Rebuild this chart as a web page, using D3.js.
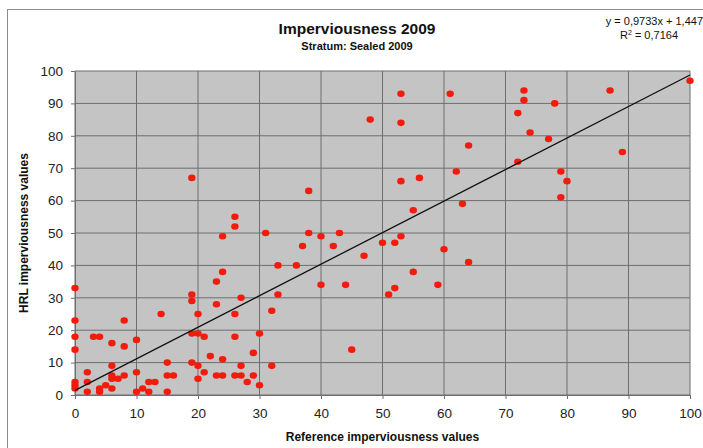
<!DOCTYPE html>
<html>
<head>
<meta charset="utf-8">
<script src="https://cdn.jsdelivr.net/npm/d3@7"></script>
<style>
  body { margin: 0; background: #fff; }
  svg { display: block; font-family: "Liberation Sans", Arial, sans-serif; }
</style>
</head>
<body>
<div class="chart"></div>
<script>
// Reference (x) and HRL (y) imperviousness values
var refValues = [
  0, 0, 0, 0, 0, 0, 0,
  2, 2, 2, 3, 4, 4, 4, 5,
  6, 6, 6, 6, 6, 7, 8, 8, 8,
  10, 10, 10, 11, 12, 12, 13, 14, 15, 15, 15, 16,
  19, 19, 19, 19, 19, 20, 20, 20, 20, 21, 21, 22,
  23, 23, 23, 24, 24, 24, 24, 26, 26, 26, 26, 26,
  27, 27, 27, 28, 29, 29, 30, 30, 31, 32, 32, 33, 33,
  36, 37, 38, 38, 40, 40, 42, 43, 44, 45, 47, 48,
  50, 51, 52, 52, 53, 53, 53, 53, 55, 55, 56, 59, 60,
  61, 62, 63, 64, 64, 72, 72, 73, 73, 74,
  77, 78, 79, 79, 80, 87, 89, 100
];
var hrlValues = [
  33, 23, 18, 14, 4, 3, 2,
  7, 4, 1, 18, 18, 2, 1, 3,
  16, 9, 6, 5, 2, 5, 23, 15, 6,
  17, 7, 1, 2, 4, 1, 4, 25, 10, 6, 1, 6,
  67, 31, 29, 19, 10, 25, 19, 9, 5, 18, 7, 12,
  35, 28, 6, 49, 38, 11, 6, 55, 52, 25, 18, 6,
  30, 9, 6, 4, 13, 6, 19, 3, 50, 26, 9, 40, 31,
  40, 46, 63, 50, 49, 34, 46, 50, 34, 14, 43, 85,
  47, 31, 47, 33, 93, 84, 66, 49, 57, 38, 67, 34, 45,
  93, 69, 59, 77, 41, 87, 72, 94, 91, 81,
  79, 90, 69, 61, 66, 94, 75, 97
];
var axisTicks = [0, 10, 20, 30, 40, 50, 60, 70, 80, 90, 100];
var trendSlope = 0.9733, trendIntercept = 1.447;
var trendRange = [0, 100];
var titleText = "Imperviousness 2009";
var subtitleText = "Stratum: Sealed 2009";
var equationText = "y = 0,9733x + 1,447";
var rSquaredText = "0,7164";

var width = 703, height = 448;
var margin = {top: 71, right: 13, bottom: 53, left: 75};

var svg = d3.select("div.chart").append("svg")
    .attr("width", width)
    .attr("height", height);

// chart frame
svg.append("rect")
    .attr("x", 7.5).attr("y", 9.5)
    .attr("width", 710).attr("height", 460)
    .attr("fill", "#fff")
    .attr("stroke", "#8c8c8c");

var x = d3.scaleLinear().domain([0, 100]).range([margin.left, width - margin.right]);
var y = d3.scaleLinear().domain([0, 100]).range([height - margin.bottom, margin.top]);

// plot background
svg.append("rect")
    .attr("x", x(0)).attr("y", y(100))
    .attr("width", x(100) - x(0)).attr("height", y(0) - y(100))
    .attr("fill", "#c4c4c4");

// grid
var grid = svg.append("g").attr("class", "grid");
grid.selectAll("line.v").data(axisTicks).enter().append("line")
    .attr("class", "v")
    .attr("x1", function(d) { return x(d); }).attr("x2", function(d) { return x(d); })
    .attr("y1", y(0)).attr("y2", y(100))
    .attr("stroke", "#6e6e6e").attr("stroke-width", 1);
grid.selectAll("line.h").data(axisTicks).enter().append("line")
    .attr("class", "h")
    .attr("x1", x(0)).attr("x2", x(100))
    .attr("y1", function(d) { return y(d); }).attr("y2", function(d) { return y(d); })
    .attr("stroke", "#6e6e6e").attr("stroke-width", 1);

// axes
var xAxis = svg.append("g")
    .attr("transform", "translate(0," + y(0) + ")")
    .call(d3.axisBottom(x).tickValues(axisTicks).tickSizeInner(4).tickSizeOuter(0).tickPadding(9));
var yAxis = svg.append("g")
    .attr("transform", "translate(" + x(0) + ",0)")
    .call(d3.axisLeft(y).tickValues(axisTicks).tickSizeInner(4).tickSizeOuter(0).tickPadding(8));
[xAxis, yAxis].forEach(function(a) {
  a.select(".domain").attr("stroke", "#6e6e6e");
  a.selectAll(".tick line").attr("stroke", "#6e6e6e");
  a.selectAll(".tick text")
      .attr("fill", "#222")
      .style("font-size", "13.5px")
      .style("font-family", "'Liberation Sans', Arial, sans-serif");
});

// points
var points = refValues.map(function(d, i) { return {x: d, y: hrlValues[i]}; });
svg.append("g").selectAll("ellipse").data(points).enter().append("ellipse")
    .attr("cx", function(d) { return x(d.x); })
    .attr("cy", function(d) { return y(d.y); })
    .attr("rx", 3.7).attr("ry", 3.3)
    .attr("fill", "#f21b0c");

// linear trend line
svg.append("line")
    .attr("x1", x(trendRange[0])).attr("y1", y(trendSlope * trendRange[0] + trendIntercept))
    .attr("x2", x(trendRange[1])).attr("y2", y(trendSlope * trendRange[1] + trendIntercept))
    .attr("stroke", "#111").attr("stroke-width", 1.3);

// titles
svg.append("text")
    .attr("x", 357).attr("y", 34)
    .attr("text-anchor", "middle")
    .style("font-size", "15.5px").style("font-weight", "bold")
    .attr("fill", "#111")
    .text(titleText);
svg.append("text")
    .attr("x", 357).attr("y", 50)
    .attr("text-anchor", "middle")
    .style("font-size", "11px").style("font-weight", "bold")
    .attr("fill", "#111")
    .text(subtitleText);

// regression equation
svg.append("text")
    .attr("x", 703).attr("y", 25)
    .attr("text-anchor", "end")
    .style("font-size", "11px")
    .attr("fill", "#111")
    .text(equationText);
var r2 = svg.append("text")
    .attr("x", 649).attr("y", 39)
    .attr("text-anchor", "middle")
    .style("font-size", "11px")
    .attr("fill", "#111");
r2.append("tspan").text("R");
r2.append("tspan").attr("dy", -4).style("font-size", "7px").text("2");
r2.append("tspan").attr("dy", 4).text(" = " + rSquaredText);

// axis titles
svg.append("text")
    .attr("x", x(50)).attr("y", 441)
    .attr("text-anchor", "middle")
    .style("font-size", "12px").style("font-weight", "bold")
    .attr("fill", "#111")
    .text("Reference imperviousness values");
svg.append("text")
    .attr("transform", "translate(28," + y(50) + ") rotate(-90)")
    .attr("text-anchor", "middle")
    .style("font-size", "12px").style("font-weight", "bold")
    .attr("fill", "#111")
    .text("HRL imperviousness values");
</script>
</body>
</html>
